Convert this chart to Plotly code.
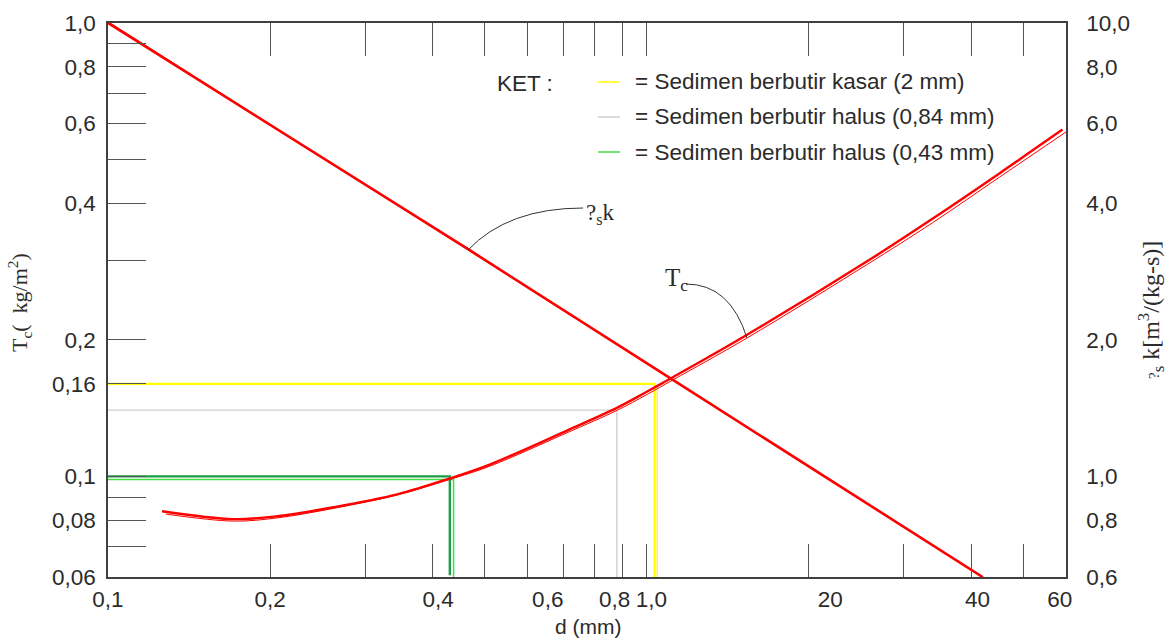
import math
import plotly.graph_objects as go

# ---------------- data ----------------
# x axis: grain diameter d (axis units), log scale
x_labelvals = [0.1, 0.2, 0.41, 0.655, 0.872, 1.02, 2.19, 4.11, 5.84]
x_ticktext = ["0,1", "0,2", "0,4", "0,6", "0,8", "1,0", "20", "40", "60"]
x_tickmarks = [0.2, 0.3, 0.4, 0.5, 0.6, 0.7, 0.8, 0.9, 1.0, 2.0, 3.0, 4.0, 5.0]

# left axis: Tc (kg/m2)
yl_tickvals = [0.06, 0.08, 0.1, 0.16, 0.2, 0.4, 0.6, 0.8, 1.0]
yl_ticktext = ["0,06", "0,08", "0,1", "0,16", "0,2", "0,4", "0,6", "0,8", "1,0"]
yl_minor = [0.07, 0.09, 0.3, 0.5, 0.7, 0.9]

# right axis: psi_s k [m3/(kg-s)]
yr_tickvals = [0.6, 0.8, 1.0, 2.0, 4.0, 6.0, 8.0, 10.0]
yr_ticktext = ["0,6", "0,8", "1,0", "2,0", "4,0", "6,0", "8,0", "10,0"]

# Tc curve (drawn twice in the original: thick + thin stroke)
d_tc = [0.126, 0.171, 0.206, 0.262, 0.344, 0.431, 0.511, 0.711, 0.880, 1.0, 1.12, 1.53, 2.56, 3.39, 4.52, 5.91]
tc = [0.0838, 0.0805, 0.0817, 0.0855, 0.0913, 0.0990, 0.1062, 0.1262, 0.1416, 0.1537, 0.1657, 0.2048, 0.2977, 0.370, 0.4665, 0.582]
d_tc2 = [0.128, 0.171, 0.206, 0.262, 0.344, 0.431, 0.511, 0.711, 0.880, 1.0, 1.12, 1.53, 2.56, 3.39, 4.52, 6.0]
tc2 = [0.0826, 0.0797, 0.0810, 0.0850, 0.0910, 0.0985, 0.1053, 0.1248, 0.1398, 0.1515, 0.1634, 0.2015, 0.2930, 0.3625, 0.4575, 0.575]

# psi_s k line (right axis)
d_psi = [0.1, 0.47, 1.12, 4.2]
psi = [10.0, 3.15, 1.63, 0.6]
d_psi2 = [0.101, 4.26]
psi2 = [10.0, 0.595]

# reference lines (left axis)
d_kasar = [0.1, 1.034, 1.034]
t_kasar = [0.16, 0.16, 0.06]
d_kasar2 = [1.046, 1.046]
t_kasar2 = [0.157, 0.06]
d_halus84 = [0.1, 0.88, 0.88]
t_halus84 = [0.14, 0.14, 0.06]
d_halus43 = [0.1, 0.431, 0.431]
t_halus43 = [0.1, 0.1, 0.0605]
d_halus43b = [0.1, 0.438, 0.438]
t_halus43b = [0.0985, 0.0985, 0.06]

legend_labels = [
    "= Sedimen berbutir kasar (2 mm)",
    "= Sedimen berbutir halus (0,84 mm)",
    "= Sedimen berbutir halus (0,43 mm)",
]

# ---------------- styling ----------------
RED = "#ff0000"
YELLOW = "#ffff00"
GRAY = "#cfcfcf"
DGREEN = "#1a9e46"
LGREEN = "#44dd44"
TXT = "#2b2b2b"
AX = "#404040"
TK = "#555555"
SANS = "Liberation Sans, Arial, sans-serif"
SERIF = "Liberation Serif, Times New Roman, serif"

W, H = 1170, 641
L, R, T, B = 108, 104, 23, 64
PW, PH = W - L - R, H - T - B


def px(x):
    return (x - L) / PW


def py(y):
    return (H - B - y) / PH


fig = go.Figure()


def line(x, y, color, width, yaxis="y", shape="linear"):
    fig.add_trace(go.Scatter(x=x, y=y, mode="lines", yaxis=yaxis,
                             line=dict(color=color, width=width, shape=shape, smoothing=1.0),
                             hoverinfo="skip", showlegend=False))


line(d_halus84, t_halus84, GRAY, 1.4)
line(d_kasar, t_kasar, YELLOW, 2.2)
line(d_kasar2, t_kasar2, YELLOW, 1.4)
line(d_halus43b, t_halus43b, LGREEN, 1.5)
line(d_halus43, t_halus43, DGREEN, 2.4)

line(d_tc2, tc2, RED, 1.0, shape="spline")
line(d_tc, tc, RED, 2.4, shape="spline")
line(d_psi2, psi2, RED, 1.0, yaxis="y2")
line(d_psi, psi, RED, 2.6, yaxis="y2")

tickfont = dict(family=SANS, size=22.5, color=TXT)

fig.update_layout(
    width=W, height=H, autosize=False,
    margin=dict(l=L, r=R, t=T, b=B, pad=0),
    paper_bgcolor="white", plot_bgcolor="white",
    showlegend=False,
    xaxis=dict(
        type="log", range=[-1, math.log10(6.0)],
        tickvals=x_labelvals, ticktext=x_ticktext, tickfont=tickfont,
        ticks="inside", ticklen=0, tickwidth=0, tickcolor="rgba(0,0,0,0)",
        minor=dict(tickvals=x_tickmarks, ticks="inside", ticklen=33, tickwidth=1.3,
                   tickcolor=TK, showgrid=False),
        showline=True, linecolor=AX, linewidth=1.5, mirror="ticks",
        showgrid=False, zeroline=False, ticklabelstandoff=1,
    ),
    yaxis=dict(
        type="log", range=[math.log10(0.06), 0],
        tickvals=yl_tickvals, ticktext=yl_ticktext, tickfont=tickfont,
        ticks="inside", ticklen=38, tickwidth=1.3, tickcolor=TK,
        minor=dict(tickvals=yl_minor, ticks="inside", ticklen=38, tickwidth=1.3,
                   tickcolor=TK, showgrid=False),
        showline=True, linecolor=AX, linewidth=1.5,
        showgrid=False, zeroline=False, ticklabelstandoff=6,
    ),
    yaxis2=dict(
        type="log", range=[math.log10(0.6), 1], overlaying="y", side="right",
        tickvals=yr_tickvals, ticktext=yr_ticktext, tickfont=tickfont,
        ticks="", showline=True, linecolor=AX, linewidth=1.5,
        showgrid=False, zeroline=False, ticklabelstandoff=14,
    ),
)


def note(text, x, y, font, xanchor="center", angle=0):
    return dict(text=text, x=px(x), y=py(y), xref="paper", yref="paper",
                xanchor=xanchor, yanchor="middle", showarrow=False,
                textangle=angle, font=font)


ann = []
ann.append(note("d (mm)", 588, 626, dict(family=SANS, size=21, color=TXT)))
ann.append(note("T<sub>c</sub>(  kg/m<sup>2</sup>)", 19, 303,
                dict(family=SERIF, size=22, color=TXT), angle=-90))
ann.append(note("<span style='font-size:15px'>?</span><sub>s</sub> k[m<sup>3</sup>/(kg-s)]",
                1151, 310, dict(family=SERIF, size=24, color=TXT), angle=-90))
ann.append(note("?<sub>s</sub>k", 600, 214, dict(family=SERIF, size=23, color=TXT)))
ann.append(note("T<sub>c</sub>", 676, 279, dict(family=SERIF, size=25, color=TXT)))
ann.append(note("KET :", 495, 83, dict(family=SANS, size=22.5, color=TXT), xanchor="left"))

leg_y = [82, 117, 152]
leg_c = [YELLOW, GRAY, LGREEN]
shapes = []
for lab, yy, cc in zip(legend_labels, leg_y, leg_c):
    ann.append(note(lab, 633, yy, dict(family=SANS, size=22.5, color=TXT), xanchor="left"))
    shapes.append(dict(type="line", xref="paper", yref="paper", x0=px(598), x1=px(620),
                       y0=py(yy), y1=py(yy), line=dict(color=cc, width=1.5)))

# leader curves
shapes.append(dict(type="path", xref="paper", yref="paper",
                   path=f"M {px(468)},{py(250)} Q {px(508)},{py(208)} {px(583)},{py(208)}",
                   line=dict(color="#333333", width=1)))
shapes.append(dict(type="path", xref="paper", yref="paper",
                   path=f"M {px(686)},{py(284)} Q {px(730)},{py(284)} {px(747)},{py(338)}",
                   line=dict(color="#333333", width=1)))

fig.update_layout(annotations=ann, shapes=shapes)
fig.write_html("out.html")
